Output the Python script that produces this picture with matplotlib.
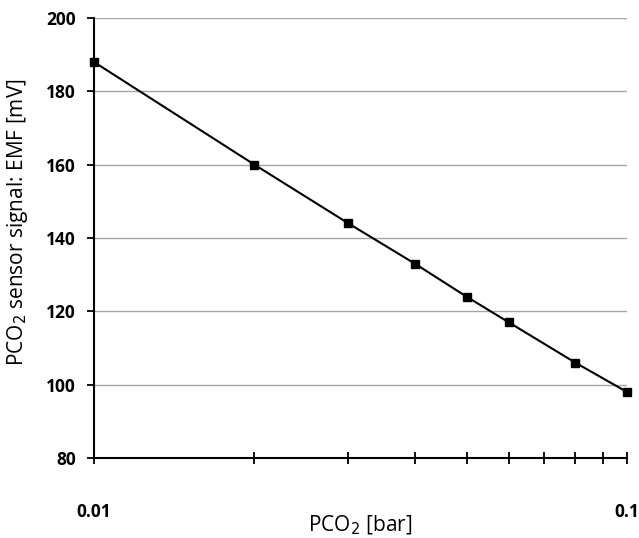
"""PCO2 sensor response: EMF vs. CO2 partial pressure (log scale)."""
import matplotlib
matplotlib.use("Agg")
import matplotlib.pyplot as plt
from matplotlib.ticker import FixedLocator, NullFormatter

pco2_bar = [0.01, 0.02, 0.03, 0.04, 0.05, 0.06, 0.08, 0.1]
emf_mv = [188, 160, 144, 133, 124, 117, 106, 98]

x_major = [0.01, 0.1]
x_major_labels = ["0.01", "0.1"]
x_minor = [0.02, 0.03, 0.04, 0.05, 0.06, 0.07, 0.08, 0.09]
y_ticks = [80, 100, 120, 140, 160, 180, 200]

plt.rcParams["font.family"] = ["Open Sans", "DejaVu Sans"]

fig = plt.figure(figsize=(6.39, 5.38), dpi=100)
ax = fig.add_axes([94 / 639, 1 - 458 / 538, 533 / 639, 440 / 538])

ax.plot(pco2_bar, emf_mv, color="black", linewidth=1.5,
        marker="s", markersize=6, markerfacecolor="black", markeredgecolor="black",
        clip_on=False, zorder=3)

ax.set_xscale("log")
ax.set_xlim(0.01, 0.1)
ax.set_ylim(80, 200)

ax.xaxis.set_major_locator(FixedLocator(x_major))
ax.set_xticklabels(x_major_labels, fontsize=12.5, fontweight="bold")
ax.xaxis.set_minor_locator(FixedLocator(x_minor))
ax.xaxis.set_minor_formatter(NullFormatter())
ax.tick_params(axis="x", which="both", direction="inout", length=9, width=1.3, pad=28)

ax.set_yticks(y_ticks)
ax.set_yticklabels([str(v) for v in y_ticks], fontsize=12.5, fontweight="bold")
ax.tick_params(axis="y", direction="out", length=5, width=1.3, pad=8)

ax.yaxis.grid(True, color="#a6a6a6", linewidth=1)
ax.set_axisbelow(True)

for side in ("top", "right"):
    ax.spines[side].set_visible(False)
for side in ("left", "bottom"):
    ax.spines[side].set_linewidth(1.5)

ax.set_xlabel("PCO$_2$ [bar]", fontsize=15)
ax.xaxis.set_label_coords(0.5, -0.126)
ax.set_ylabel("PCO$_2$ sensor signal: EMF [mV]", fontsize=15)
ax.yaxis.set_label_coords(-0.12, 0.536)

plt.savefig("out.png", dpi=100)
plt.close()
